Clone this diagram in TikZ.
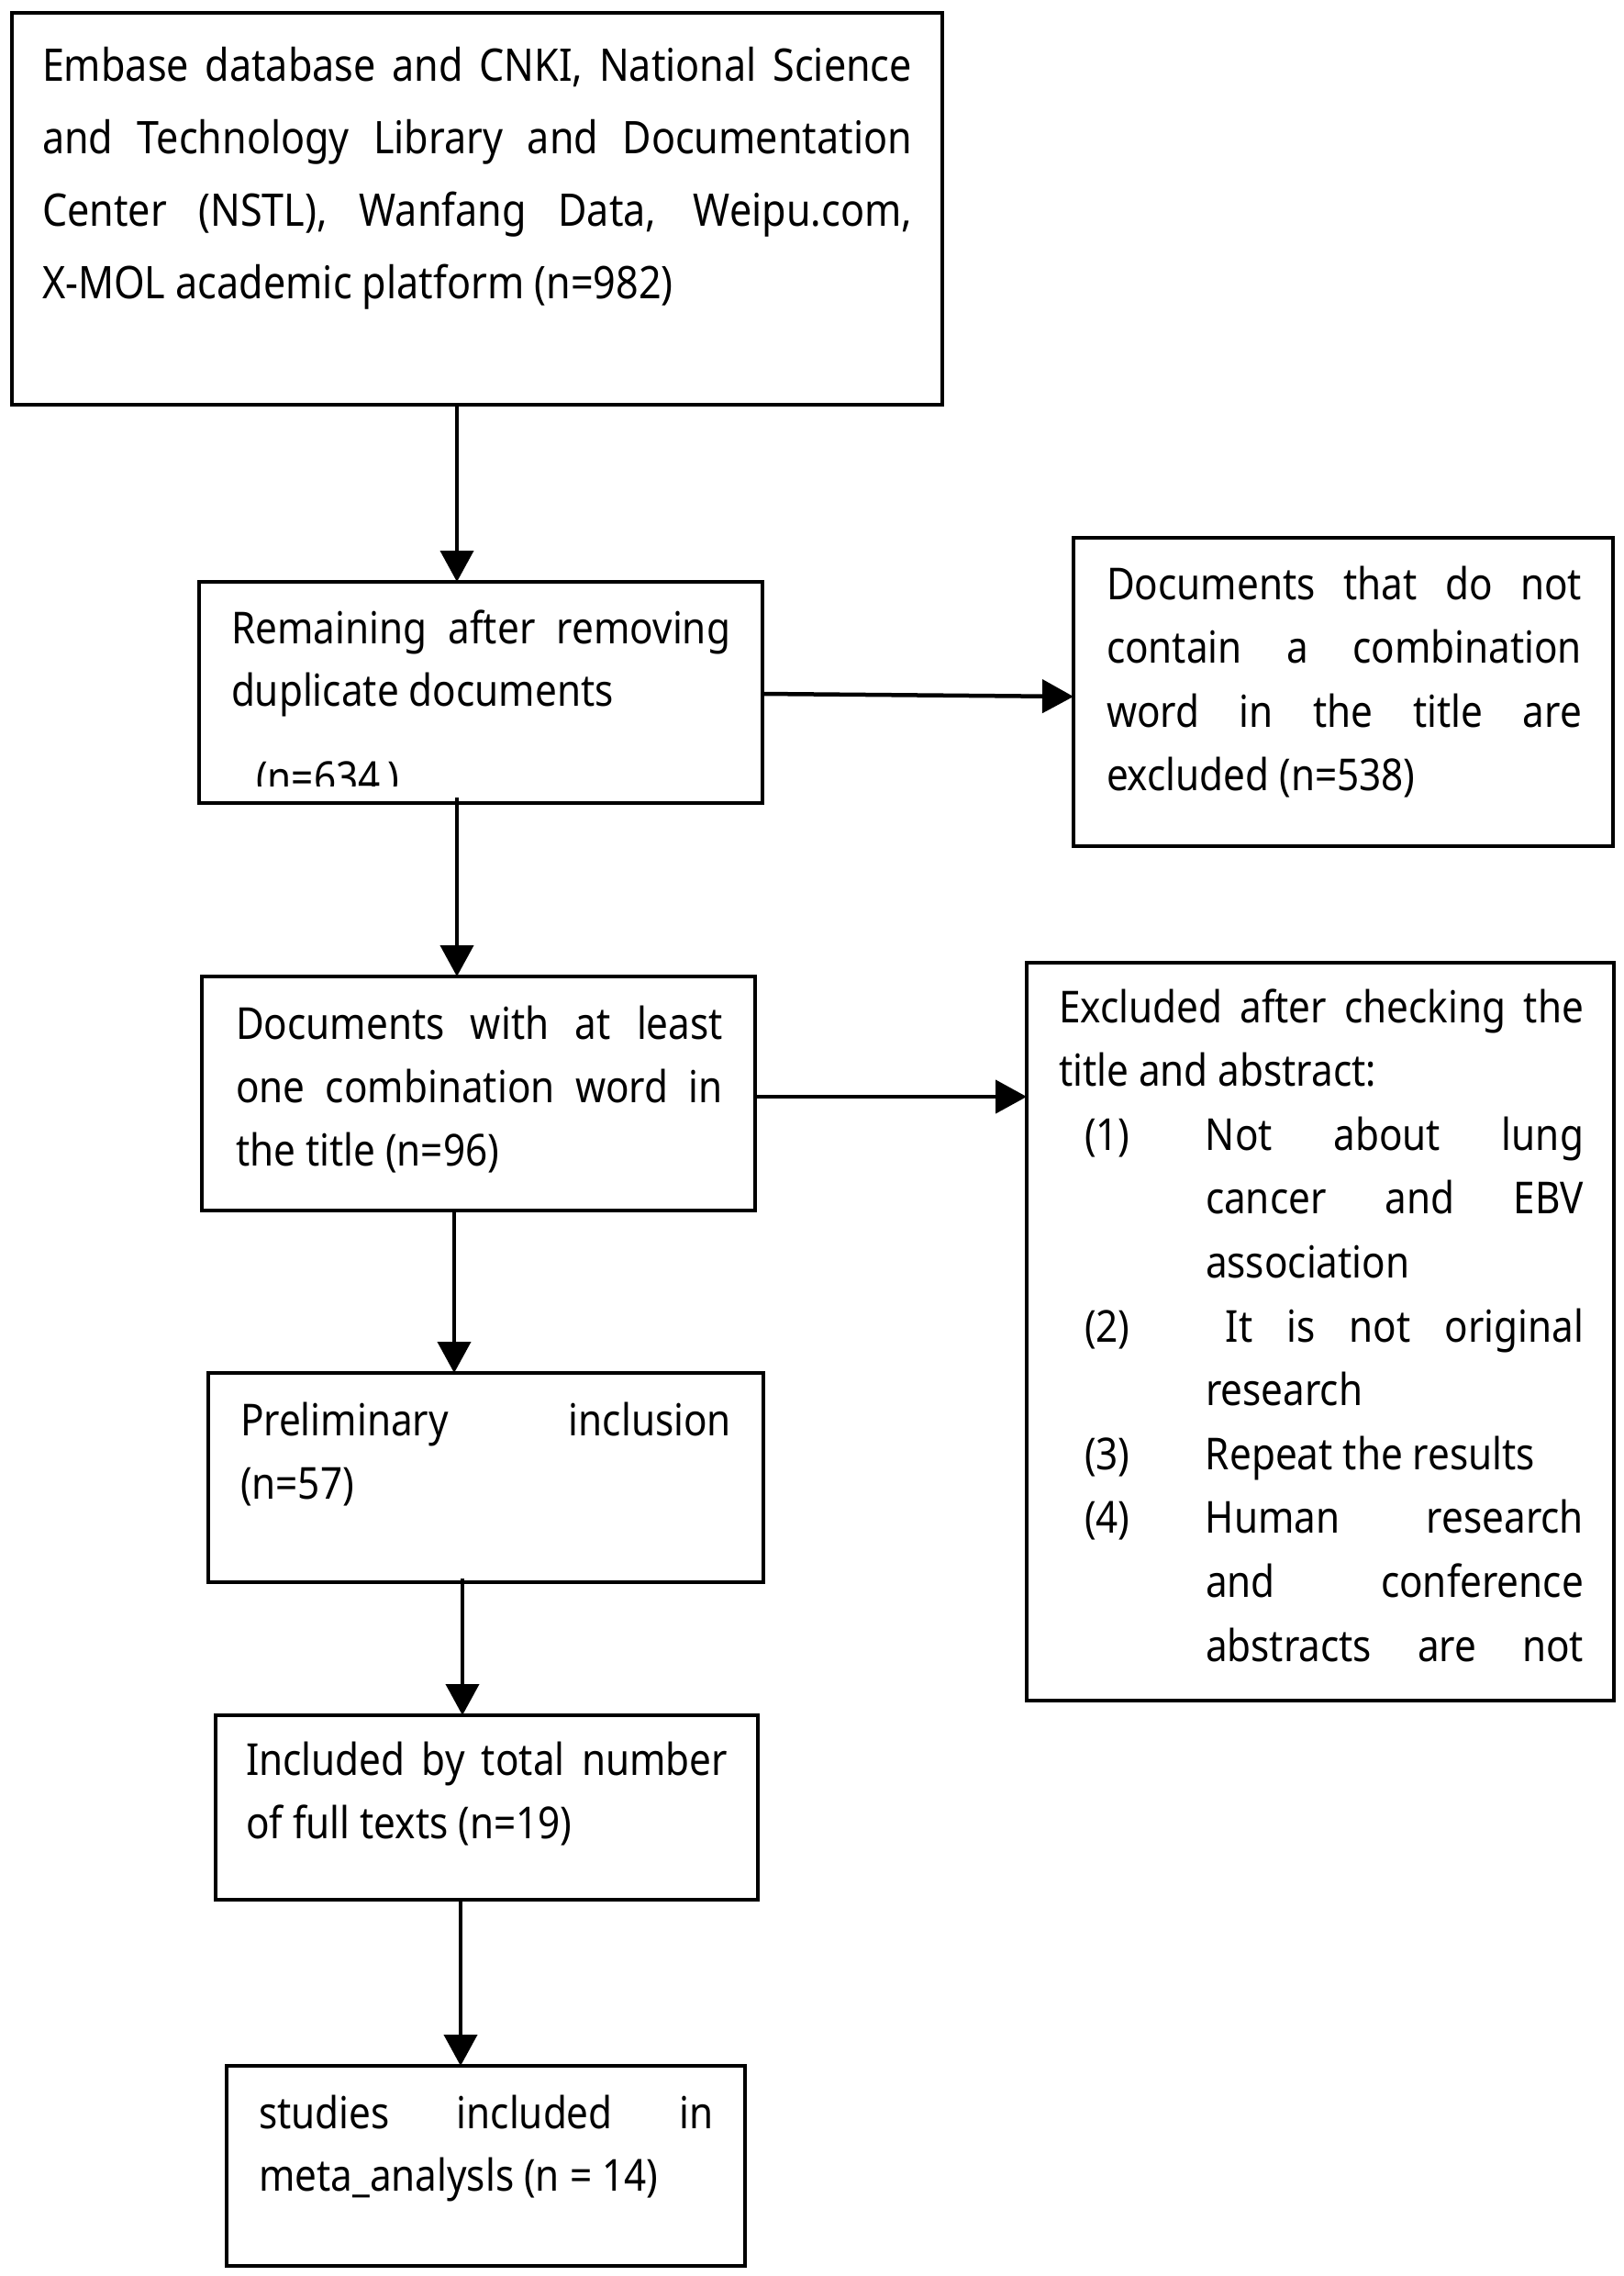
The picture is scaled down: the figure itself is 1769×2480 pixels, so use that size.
\documentclass[tikz,border=0pt]{standalone}
\usepackage{fontspec}
\setmainfont{Noto Sans}[FakeStretch=0.88]
\usetikzlibrary{arrows.meta}
\newcommand\J[1]{\makebox[\linewidth][s]{#1}\par}
\newcommand\Lf[1]{#1\par}
\newcommand\IL[2]{\hspace*{28pt}\makebox[132pt][l]{#1}#2\par}
\newcommand\bxc[6]{\parbox[c][#2][t]{#1}{\hspace*{#3}\parbox[t]{#4}{\rule{0pt}{#5}#6}}}
\tikzset{
  box/.style={draw, line width=4pt, inner sep=0pt, outer sep=0pt, anchor=north west},
  varr/.style={line width=4pt, -{Triangle[width=36pt,length=34pt]}},
  harr/.style={line width=4.5pt, -{Triangle[width=36pt,length=34pt]}},
}
\begin{document}
\begin{tikzpicture}[x=1pt,y=-1pt]
\useasboundingbox[fill=white] (0,0) rectangle (1769,2480);

\node[box, font=\fontsize{49}{79}\selectfont] (b1) at (13,14)
  {\bxc{1014pt}{427pt}{33pt}{948pt}{75pt}{%
   \J{Embase database and CNKI, National Science}%
   \J{and Technology Library and Documentation}%
   \J{Center (NSTL), Wanfang Data, Weipu.com,}%
   \Lf{X-MOL academic platform (n=982)}}};

\node[box, font=\fontsize{48}{68}\selectfont] (b2) at (217,634)
  {\bxc{614pt}{241pt}{35pt}{544pt}{67pt}{%
   \J{Remaining after removing}%
   \Lf{duplicate documents}}};
\begin{scope}
  \clip (b2.north west) rectangle ([yshift=19pt]b2.south east);
  \node[anchor=base west, inner sep=0pt, font=\fontsize{48}{68}\selectfont] (n634) at (279,864) {(n=634\,)};
\end{scope}

\node[box, font=\fontsize{48}{69.5}\selectfont] (b3) at (1170,586)
  {\bxc{588pt}{336pt}{36pt}{518pt}{67pt}{%
   \J{Documents that do not}%
   \J{contain a combination}%
   \J{word in the title are}%
   \Lf{excluded (n=538)}}};

\node[box, font=\fontsize{48}{69}\selectfont] (b4) at (220,1064)
  {\bxc{603pt}{255pt}{37pt}{531pt}{68pt}{%
   \J{Documents with at least}%
   \J{one combination word in}%
   \Lf{the title (n=96)}}};

\node[box, font=\fontsize{48}{69.6}\selectfont] (b5) at (1119,1049)
  {\bxc{640pt}{804pt}{35pt}{572pt}{65pt}{%
   \J{Excluded after checking the}%
   \Lf{title and abstract:}%
   \IL{(1)}{\makebox[412pt][s]{Not about lung}}%
   \IL{}{\makebox[412pt][s]{cancer and EBV}}%
   \IL{}{association}%
   \IL{(2)}{\hspace*{22pt}\makebox[390pt][s]{It is not original}}%
   \IL{}{research}%
   \IL{(3)}{Repeat the results}%
   \IL{(4)}{\makebox[412pt][s]{Human research}}%
   \IL{}{\makebox[412pt][s]{and conference}}%
   \IL{}{\makebox[412pt][s]{abstracts are not}}}};

\node[box, font=\fontsize{48}{69}\selectfont] (b6) at (227,1496)
  {\bxc{605pt}{228pt}{35pt}{535pt}{68pt}{%
   \J{Preliminary inclusion}%
   \Lf{(n=57)}}};

\node[box, font=\fontsize{48}{69}\selectfont] (b7) at (235,1869)
  {\bxc{591pt}{201pt}{33pt}{525pt}{65pt}{%
   \J{Included by total number}%
   \Lf{of full texts (n=19)}}};

\node[box, font=\fontsize{48}{68}\selectfont] (b8) at (247,2251)
  {\bxc{565pt}{218pt}{35pt}{496pt}{68pt}{%
   \J{studies included in}%
   \Lf{meta\_analysls (n = 14)}}};

% vertical connectors
\coordinate (a1) at ([xshift=-22pt]b1.south);
\draw[varr] (a1) -- (a1 |- b2.north);
\coordinate (a2) at ([xshift=-26pt,yshift=6pt]b2.south);
\draw[varr] (a2) -- (a2 |- b4.north);
\coordinate (a3) at ([xshift=-26.5pt]b4.south);
\draw[varr] (a3) -- (a3 |- b6.north);
\coordinate (a4) at ([xshift=-25.5pt,yshift=4pt]b6.south);
\draw[varr] (a4) -- (a4 |- b7.north);
\coordinate (a5) at ([xshift=-28.5pt]b7.south);
\draw[varr] (a5) -- (a5 |- b8.north);

% horizontal connectors
\draw[harr] ([yshift=-1.5pt]b2.east) -- ([yshift=-5pt]b3.west);
\coordinate (h2) at ([yshift=-3.5pt]b4.east);
\draw[harr] (h2) -- (h2 -| b5.west);
\end{tikzpicture}
\end{document}
